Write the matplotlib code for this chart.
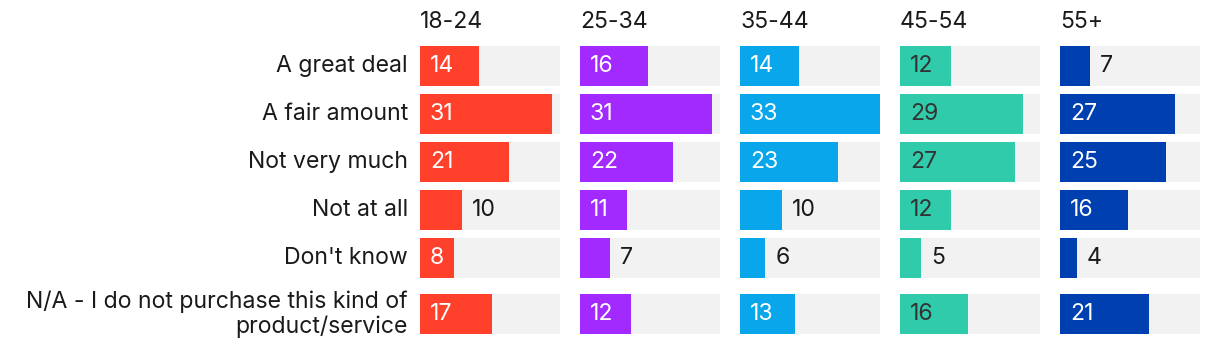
import numpy as np
import matplotlib.pyplot as plt

plt.rcParams['font.family'] = ['Inter', 'DejaVu Sans']

# Categories and age groups
answers = ['A great deal', 'A fair amount', 'Not very much', 'Not at all',
           "Don't know", 'N/A - I do not purchase this kind of\nproduct/service']
ages = ['18-24', '25-34', '35-44', '45-54', '55+']

# Values per age group (same order as answers)
v_18_24 = [14, 31, 21, 10, 8, 17]
v_25_34 = [16, 31, 22, 11, 7, 12]
v_35_44 = [14, 33, 23, 10, 6, 13]
v_45_54 = [12, 29, 27, 12, 5, 16]
v_55 = [7, 27, 25, 16, 4, 21]
values = [v_18_24, v_25_34, v_35_44, v_45_54, v_55]

colors = ['#ff412c', '#a22aff', '#0aa6ec', '#30cbaa', '#003fb0']
inner_text = ['white', 'white', 'white', '#333333', 'white']
# labels drawn outside the bar (panel index, row index)
outside = {(0, 3), (1, 4), (2, 3), (2, 4), (3, 4), (4, 0), (4, 4)}

W, H = 1220, 354
fig = plt.figure(figsize=(W / 100, H / 100), dpi=100)
fs = 16.6

# row centres in pixels (extra gap before the two-line label)
ycent = [66 + 48 * i for i in range(6)]
ycent[5] += 8
vmax = 33

for p, (age, vals) in enumerate(zip(ages, values)):
    x0 = 420 + 160 * p
    ax = fig.add_axes([x0 / W, (H - 334) / H, 140 / W, 288 / H])
    ax.set_xlim(0, vmax)
    ax.set_ylim(334, 46)
    ax.axis('off')
    ax.barh(ycent, [vmax] * 6, height=40, color='#f2f2f2', left=0)
    ax.barh(ycent, vals, height=40, color=colors[p])
    for r, v in enumerate(vals):
        if (p, r) in outside:
            ax.text(v + 2.3, ycent[r], str(v), va='center', ha='left',
                    fontsize=fs, color='#1a1a1a')
        else:
            ax.text(2.3, ycent[r], str(v), va='center', ha='left',
                    fontsize=fs, color=inner_text[p])
    fig.text(x0 / W, 1 - 22 / H, age, ha='left', va='center',
             fontsize=fs, color='#1a1a1a')

for r, lab in enumerate(answers):
    fig.text(408 / W, 1 - ycent[r] / H, lab, ha='right', va='center',
             fontsize=fs, color='#1a1a1a', linespacing=1.15)

fig.savefig('out.png', dpi=100)
